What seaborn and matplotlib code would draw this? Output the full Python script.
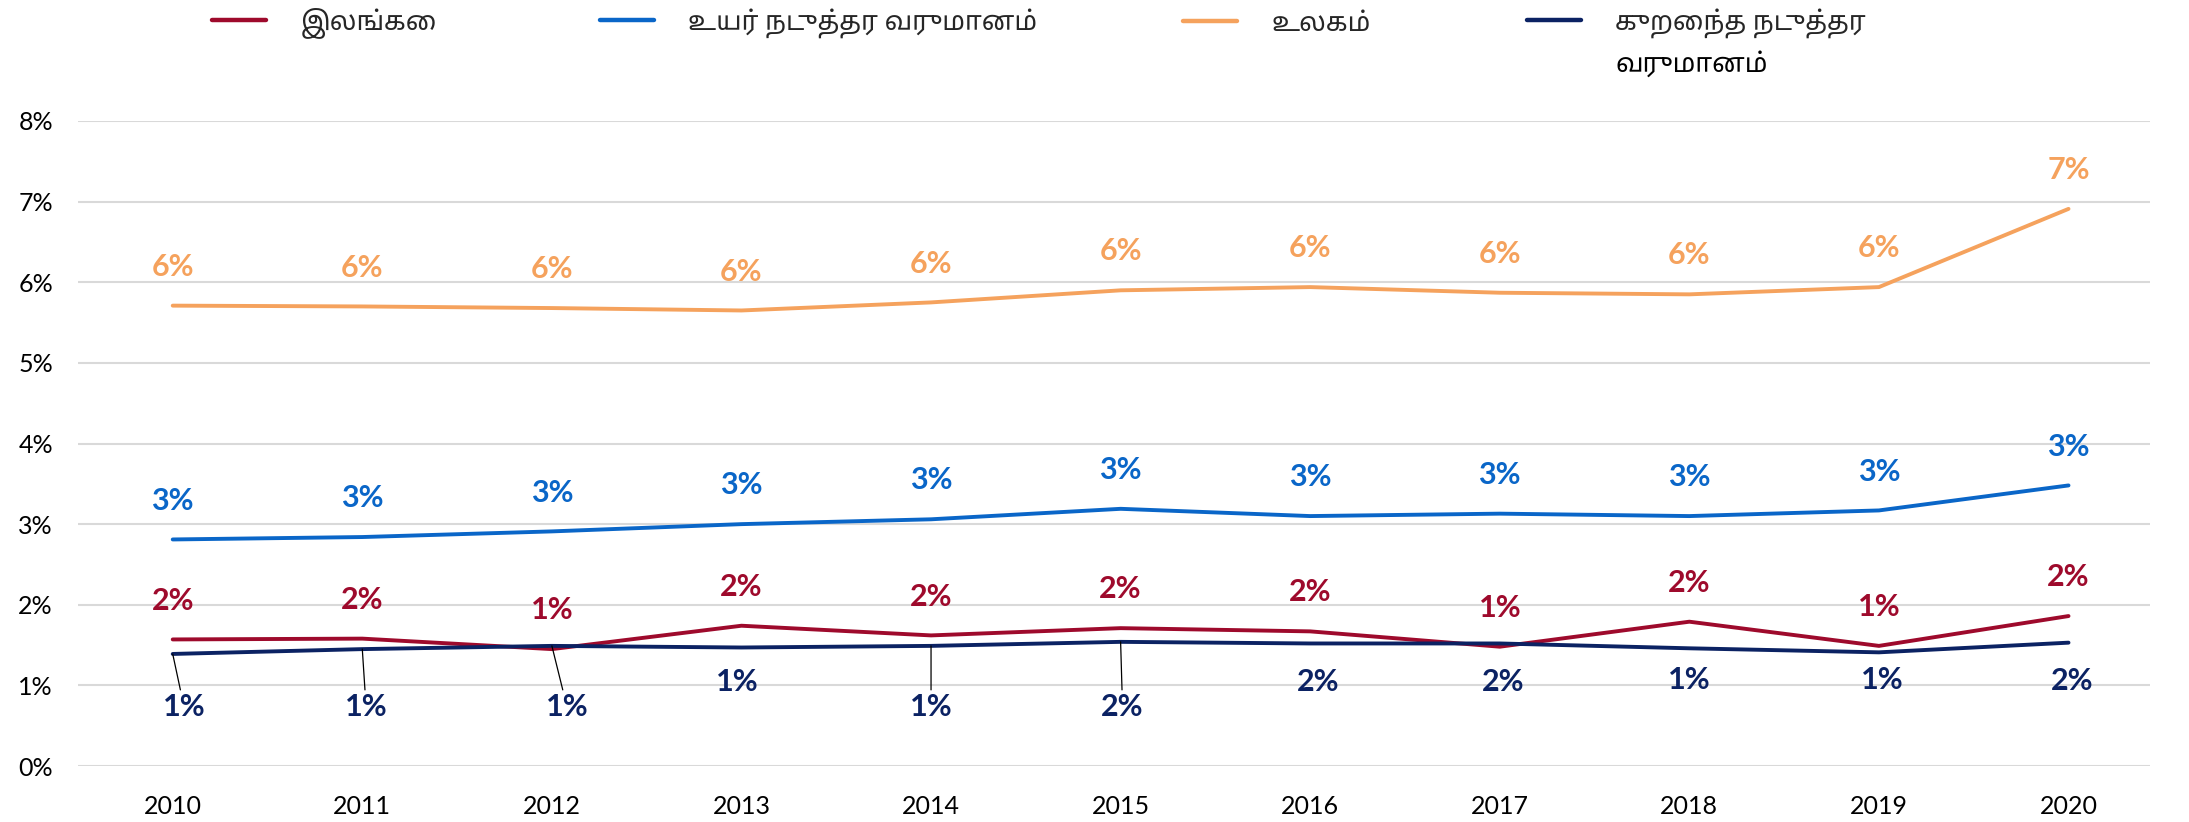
import numpy as np
import pandas as pd
import matplotlib
matplotlib.use('Agg')
import matplotlib.pyplot as plt
import seaborn as sns
from matplotlib.ticker import FuncFormatter

# data (percent)
years = [2010, 2011, 2012, 2013, 2014, 2015, 2016, 2017, 2018, 2019, 2020]
sri_lanka = [1.57, 1.58, 1.45, 1.74, 1.62, 1.71, 1.67, 1.48, 1.79, 1.49, 1.86]
upper_middle = [2.81, 2.84, 2.91, 3.00, 3.06, 3.19, 3.10, 3.13, 3.10, 3.17, 3.48]
world = [5.71, 5.70, 5.68, 5.65, 5.75, 5.90, 5.94, 5.87, 5.85, 5.94, 6.91]
lower_middle = [1.39, 1.45, 1.49, 1.47, 1.49, 1.54, 1.52, 1.52, 1.46, 1.41, 1.53]

names = ['இலங்கை', 'உயர் நடுத்தர வருமானம்', 'உலகம்', 'குறைந்த நடுத்தர வருமானம்']
colors = ['#9E0A2C', '#0A66C8', '#F5A25D', '#0B2263']

df = pd.DataFrame({'year': years, names[0]: sri_lanka, names[1]: upper_middle,
                   names[2]: world, names[3]: lower_middle})
long_df = df.melt(id_vars='year', var_name='series', value_name='value')

sns.set_theme(style='white')
plt.rcParams['font.family'] = ['Lato', 'Noto Sans Tamil', 'Lohit Tamil', 'FreeSans', 'DejaVu Sans']

fig = plt.figure(figsize=(21.89, 8.22), dpi=100)
ax = fig.add_axes([0.0356, 0.0681, 0.9466, 0.7847])

sns.lineplot(data=long_df, x='year', y='value', hue='series', hue_order=names,
             palette=colors, linewidth=2.8, ax=ax, legend=False)

ax.set_ylim(0, 8)
ax.set_xlim(2009.5, 2020.43)
ax.set_yticks(range(0, 9))
ax.yaxis.set_major_formatter(FuncFormatter(lambda v, p: f'{v:.0f}%'))
ax.set_xticks(years)
ax.set_xticklabels([str(y) for y in years])
ax.tick_params(axis='both', length=0, labelsize=18, colors='black')
ax.tick_params(axis='y', pad=18)
ax.tick_params(axis='x', pad=21)
ax.grid(axis='y', color='#D9D9D9', linewidth=1.5)
ax.set_axisbelow(True)
for s in ax.spines.values():
    s.set_visible(False)
ax.set_xlabel('')
ax.set_ylabel('')

# labels above lines
for vals, col in [(sri_lanka, colors[0]), (upper_middle, colors[1]), (world, colors[2])]:
    for x, v in zip(years, vals):
        ax.annotate(f'{v:.0f}%', xy=(x, v), xytext=(0, 28), textcoords='offset points',
                    ha='center', va='center', fontsize=22, fontweight='bold', color=col)

# labels below for lower middle income
navy_label_y = [0.73, 0.73, 0.73, 1.04, 0.73, 0.73, 1.04, 1.04, 1.07, 1.07, 1.06]
navy_label_dx = [0.06, 0.02, 0.08, -0.02, 0.0, 0.01, 0.04, 0.02, 0.0, 0.02, 0.02]
leader = [True, True, True, False, True, True, False, False, False, False, False]
for x, v, ly, dx, ld in zip(years, lower_middle, navy_label_y, navy_label_dx, leader):
    props = dict(arrowstyle='-', color='black', lw=0.9, shrinkA=0, shrinkB=0) if ld else None
    ax.annotate(f'{v:.0f}%', xy=(x, v), xytext=(x + dx, ly), textcoords='data',
                ha='center', va='center', fontsize=22, fontweight='bold', color=colors[3],
                arrowprops=props)

# legend, one entry per box so each sits where the original puts it
leg_labels = ['இலங்கை', 'உயர் நடுத்தர வருமானம்', 'உலகம்', 'குறைந்த நடுத்தர']
leg_x = [0.0968, 0.2741, 0.5404, 0.6976]
legs = []
for line, lab, lx in zip(ax.lines[:4], leg_labels, leg_x):
    leg = fig.legend([line], [lab], loc='center left', bbox_to_anchor=(lx, 0.972),
                     frameon=False, fontsize=19, handlelength=2.05, handletextpad=1.3,
                     borderpad=0, borderaxespad=0)
    leg.legend_handles[0].set_linewidth(3.2)
    legs.append(leg)
fig.canvas.draw()
bb = legs[3].get_texts()[0].get_window_extent().transformed(fig.transFigure.inverted())
fig.text(bb.x0, 0.923, 'வருமானம்', ha='left', va='center', fontsize=19, color='black')

fig.savefig('out.png', dpi=100)
